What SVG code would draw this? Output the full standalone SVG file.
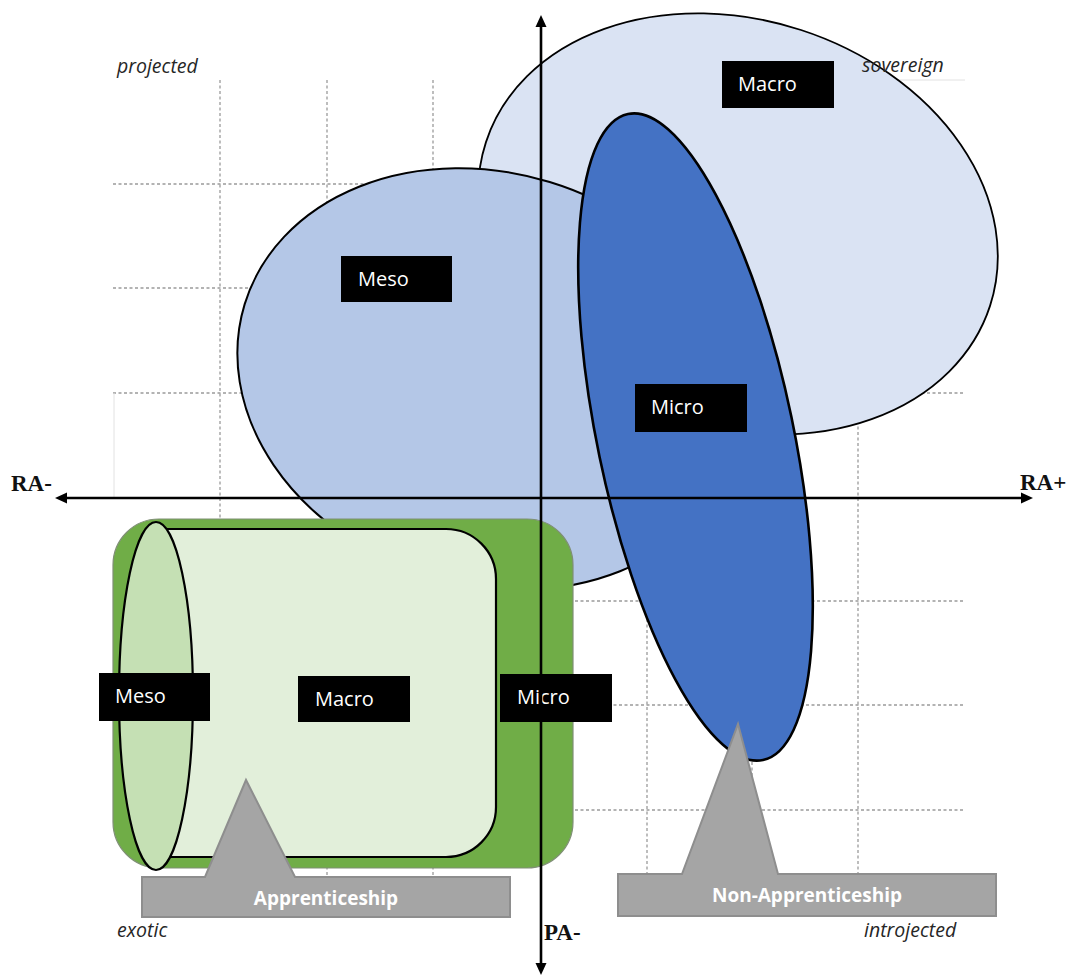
<svg xmlns="http://www.w3.org/2000/svg" width="1076" height="978" viewBox="0 0 1076 978">
<style>
.grid{stroke:#9a9a9a;stroke-width:1.3;stroke-dasharray:3 2.5;fill:none}
.faint{stroke:#e2e2e2;stroke-width:1;fill:none}
.box{fill:#000}
.boxtxt{font-family:"Open Sans","Liberation Sans",sans-serif;font-size:20px;fill:#fff}
.corner{font-family:"Open Sans","Liberation Sans",sans-serif;font-style:italic;font-size:19.5px;fill:#262626}
.axlab{font-family:"Liberation Serif","Times New Roman",serif;font-weight:bold;font-size:23px;fill:#111}
.tag{fill:#a5a5a5;stroke:#8e8e8e;stroke-width:2;stroke-linejoin:miter}
.tagtxt{font-family:"Open Sans","Liberation Sans",sans-serif;font-weight:bold;font-size:19px;fill:#fff;text-anchor:middle}
.axis{stroke:#000;stroke-width:2.6;fill:none}
</style>
<defs>
<marker id="arr" markerUnits="userSpaceOnUse" markerWidth="12" markerHeight="12" viewBox="0 0 12 12" refX="2" refY="6" orient="auto-start-reverse">
<path d="M0,0.5 L12,6 L0,11.5 z" fill="#000"/>
</marker>
</defs>
<rect width="1076" height="978" fill="#fff"/>
<g id="grid">
<line class="grid" x1="220" y1="80" x2="220" y2="914"/>
<line class="grid" x1="327" y1="80" x2="327" y2="914"/>
<line class="grid" x1="433" y1="80" x2="433" y2="914"/>
<line class="grid" x1="647" y1="80" x2="647" y2="914"/>
<line class="grid" x1="752" y1="80" x2="752" y2="914"/>
<line class="grid" x1="858" y1="80" x2="858" y2="914"/>
<line class="grid" x1="113" y1="184" x2="965" y2="184"/>
<line class="grid" x1="113" y1="288" x2="965" y2="288"/>
<line class="grid" x1="113" y1="393" x2="965" y2="393"/>
<line class="grid" x1="113" y1="498" x2="965" y2="498"/>
<line class="grid" x1="113" y1="601" x2="965" y2="601"/>
<line class="grid" x1="113" y1="705" x2="965" y2="705"/>
<line class="grid" x1="113" y1="810" x2="965" y2="810"/>
<line class="faint" x1="114" y1="393" x2="114" y2="498"/>
<line class="faint" x1="868" y1="80" x2="965" y2="80"/>
</g>
<g id="macro-ellipse">
<ellipse cx="738" cy="224" rx="265" ry="204" transform="rotate(18 738 224)" fill="#dae3f3" stroke="#000" stroke-width="1.8"/>
</g>
<g id="meso-ellipse">
<ellipse cx="489.5" cy="379" rx="256" ry="206" transform="rotate(17 489.5 379)" fill="#b4c7e7" stroke="#000" stroke-width="2"/>
</g>
<g id="micro-ellipse">
<ellipse cx="695.5" cy="437" rx="98" ry="330" transform="rotate(-11.8 695.5 437)" fill="#4472c4" stroke="#000" stroke-width="2.6"/>
</g>
<g id="apprenticeship-cylinder">
<rect x="113" y="519" width="460" height="349" rx="46" ry="46" fill="#70ad47" stroke="#7f8f75" stroke-width="1.2"/>
<path d="M156,529 L446,529 A50,50 0 0 1 496,579 L496,807 A50,50 0 0 1 446,857 L156,857 Z" fill="#e2efda" stroke="#000" stroke-width="2.2"/>
<ellipse cx="156" cy="696" rx="37" ry="174" fill="#c5e0b4" stroke="#000" stroke-width="2.2"/>
</g>
<g id="tag-apprenticeship">
<path class="tag" d="M142,877 L205,877 L246,780 L295,877 L510,877 L510,917 L142,917 Z"/>
<text class="tagtxt" x="326" y="905">Apprenticeship</text>
</g>
<g id="tag-non-apprenticeship">
<path class="tag" d="M618,874 L682,874 L738,724 L778,874 L996,874 L996,916 L618,916 Z"/>
<text class="tagtxt" x="807" y="902">Non-Apprenticeship</text>
</g>
<g id="label-macro-top">
<rect class="box" x="722" y="61" width="112" height="47"/>
<text class="boxtxt" x="738" y="91">Macro</text>
</g>
<g id="label-meso-top">
<rect class="box" x="341" y="256" width="111" height="46"/>
<text class="boxtxt" x="358" y="286">Meso</text>
</g>
<g id="label-micro-mid">
<rect class="box" x="635" y="384" width="112" height="48"/>
<text class="boxtxt" x="651" y="414">Micro</text>
</g>
<g id="label-meso-bottom">
<rect class="box" x="99" y="673" width="111" height="48"/>
<text class="boxtxt" x="115" y="703">Meso</text>
</g>
<g id="label-macro-bottom">
<rect class="box" x="298" y="676" width="112" height="46"/>
<text class="boxtxt" x="315" y="706">Macro</text>
</g>
<g id="label-micro-bottom">
<rect class="box" x="500" y="674" width="112" height="48"/>
<text class="boxtxt" x="517" y="704">Micro</text>
</g>
<g id="connectors">
<line class="axis" x1="65" y1="498" x2="1023" y2="498" marker-start="url(#arr)" marker-end="url(#arr)"/>
<line class="axis" x1="541" y1="25" x2="541" y2="965" marker-start="url(#arr)" marker-end="url(#arr)"/>
</g>
<g id="axis-labels">
<text class="axlab" x="11" y="491">RA-</text>
<text class="axlab" x="1020" y="490">RA+</text>
<text class="axlab" x="544" y="940">PA-</text>
</g>
<g id="quadrant-labels">
<text class="corner" x="117" y="73">projected</text>
<text class="corner" x="862" y="72">sovereign</text>
<text class="corner" x="117" y="937">exotic</text>
<text class="corner" x="864" y="937">introjected</text>
</g>
</svg>
